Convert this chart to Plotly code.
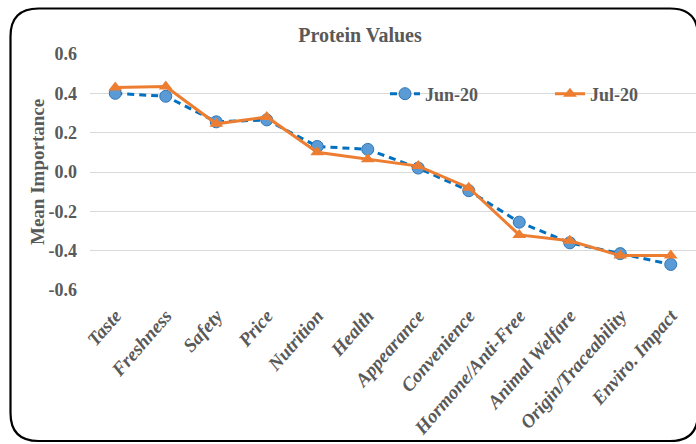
import plotly.graph_objects as go

# ---- data ----
categories = ["Taste", "Freshness", "Safety", "Price", "Nutrition", "Health",
              "Appearance", "Convenience", "Hormone/Anti-Free", "Animal Welfare",
              "Origin/Traceability", "Enviro. Impact"]
jun20 = [0.40, 0.385, 0.255, 0.265, 0.13, 0.115, 0.02, -0.095, -0.255, -0.36, -0.415, -0.47]
jul20 = [0.43, 0.435, 0.245, 0.28, 0.10, 0.065, 0.03, -0.08, -0.32, -0.35, -0.425, -0.425]
series_names = ["Jun-20", "Jul-20"]
ytick_vals = [-0.6, -0.4, -0.2, 0.0, 0.2, 0.4, 0.6]
ytick_text = ["-0.6", "-0.4", "-0.2", "0.0", "0.2", "0.4", "0.6"]
y_title = "Mean Importance"
chart_title = "Protein Values"

W, H = 696, 444
L, R, T, B = 90, 0, 54, 154
GREY = "#595959"
SERIF = "Liberation Serif"

fig = go.Figure()
fig.add_trace(go.Scatter(
    x=categories, y=jun20, name=series_names[0], mode="lines+markers",
    line=dict(color="#0070C0", width=3, dash="7px,5px"),
    marker=dict(symbol="circle", size=12, color="#5B9BD5",
                line=dict(color="#2E75B6", width=1)),
))
fig.add_trace(go.Scatter(
    x=categories, y=jul20, name=series_names[1], mode="lines+markers",
    line=dict(color="#ED7D31", width=3),
    marker=dict(symbol="triangle-up", size=12, color="#ED7D31"),
))

# rounded border (pixel coordinates converted to paper fractions)
pw, ph = W - L - R, H - T - B
def fx(px): return (px - L) / pw
def fy(py): return (H - B - py) / ph
left, top, right, bottom, r = 10.5, 8.5, 698, 441, 28
path = (f"M {fx(left + r)},{fy(top)} L {fx(right - r)},{fy(top)} "
        f"Q {fx(right)},{fy(top)} {fx(right)},{fy(top + r)} "
        f"L {fx(right)},{fy(bottom - r)} Q {fx(right)},{fy(bottom)} {fx(right - r)},{fy(bottom)} "
        f"L {fx(left + r)},{fy(bottom)} Q {fx(left)},{fy(bottom)} {fx(left)},{fy(bottom - r)} "
        f"L {fx(left)},{fy(top + r)} Q {fx(left)},{fy(top)} {fx(left + r)},{fy(top)} Z")
fig.add_shape(type="path", path=path, xref="paper", yref="paper",
              line=dict(color="black", width=2.2), fillcolor="rgba(0,0,0,0)")

fig.add_annotation(text=y_title, xref="paper", yref="paper", x=fx(37), y=fy(172),
                   xanchor="center", yanchor="middle", textangle=-90, showarrow=False,
                   font=dict(family=SERIF, size=19, color=GREY, weight="bold"))

fig.update_layout(
    width=W, height=H,
    margin=dict(l=L, r=R, t=T, b=B, pad=0, autoexpand=False),
    paper_bgcolor="white", plot_bgcolor="white",
    title=dict(text=chart_title, xref="container", yref="container",
               x=360 / W, xanchor="center", y=1 - 35 / H, yanchor="middle",
               font=dict(family=SERIF, size=20, color=GREY, weight="bold")),
    showlegend=True,
    legend=dict(orientation="h", x=fx(385), xanchor="left", y=fy(94), yanchor="middle",
                bgcolor="rgba(0,0,0,0)", font=dict(family=SERIF, size=18, color=GREY, weight="bold"),
                itemwidth=30, entrywidth=120, entrywidthmode="pixels", tracegroupgap=0),
    xaxis=dict(type="category", range=[-0.5, len(categories) - 0.5],
               showgrid=False, showline=False, zeroline=False,
               ticks="", tickangle=-49, ticklabelstandoff=10,
               tickfont=dict(family=SERIF, size=19, color=GREY, weight="bold", style="italic")),
    yaxis=dict(range=[-0.6, 0.6], tickvals=ytick_vals, ticktext=ytick_text,
               showgrid=True, gridcolor="#D9D9D9", gridwidth=1, zeroline=False,
               showline=False, ticks="", ticklabelstandoff=12,
               tickfont=dict(family=SERIF, size=18, color=GREY, weight="bold")),
)

fig.write_html("out.html", config={"displayModeBar": False},
               post_script="document.body.style.margin='0';document.body.style.overflow='hidden';")
